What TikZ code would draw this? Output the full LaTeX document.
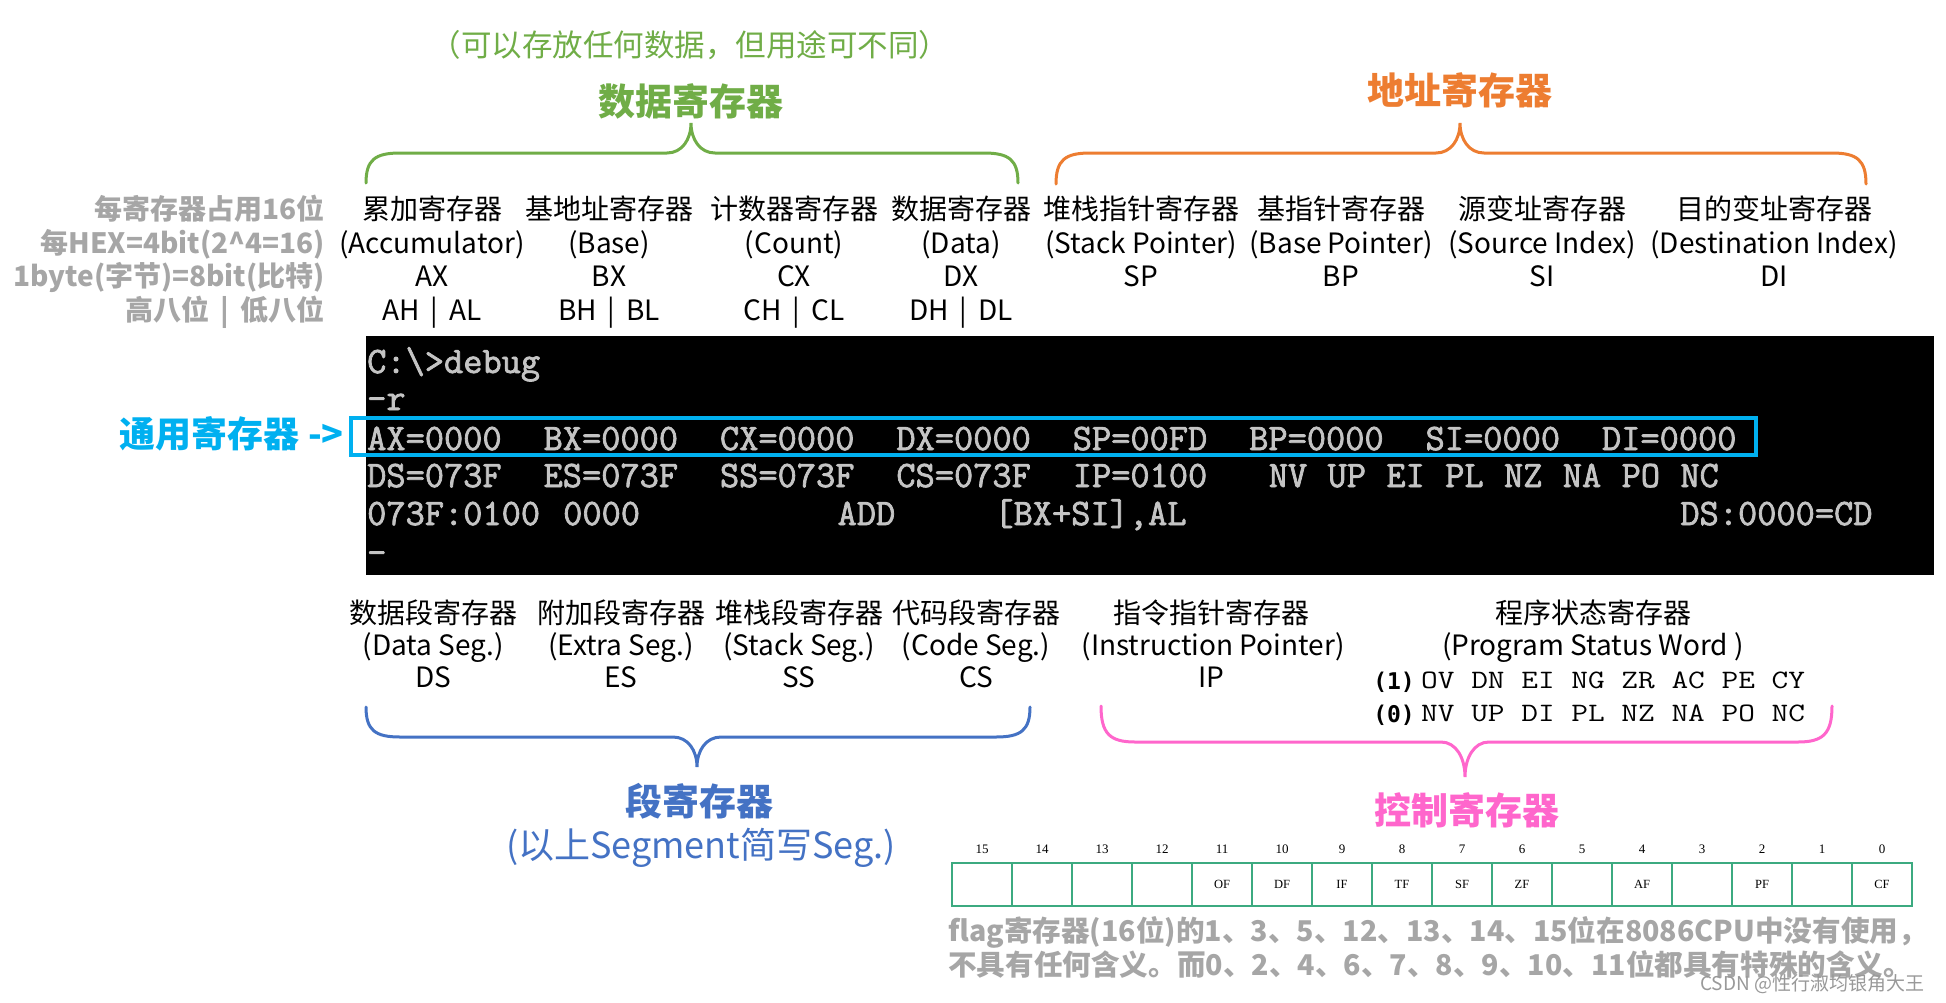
\documentclass[tikz,border=0pt]{standalone}
\usepackage{fontspec}
\usepackage{graphicx}
\setmainfont{Noto Sans CJK SC}
\newfontfamily\dvmono{DejaVu Sans Mono}
\newfontfamily\tabfont{Liberation Serif}
\newfontfamily\termfont[FakeBold=2]{Latin Modern Mono}
\definecolor{cgreen}{HTML}{70AD47}
\definecolor{corange}{HTML}{ED7D31}
\definecolor{ccyan}{HTML}{00B0F0}
\definecolor{cseg}{HTML}{4472C4}
\definecolor{cpink}{HTML}{FF66CC}
\definecolor{lgray}{HTML}{A6A6A6}
\definecolor{termgray}{HTML}{C4C4C4}
\definecolor{tabgreen}{RGB}{60,170,128}
\newcommand\myfs[1]{\fontsize{#1}{#1}\selectfont}
\newcommand\mybrace[7]{%
\draw[bracestyle,#1] (#2,#5) .. controls (#2,{#6+0.23*(#5-#6)}) and ({#2+9},#6) .. ({#2+34},#6)
 -- ({#3-24},#6) .. controls ({#3-9},#6) and (#3,{#6+0.45*(#7-#6)}) .. (#3,#7)
 .. controls (#3,{#6+0.45*(#7-#6)}) and ({#3+9},#6) .. ({#3+24},#6)
 -- ({#4-34},#6) .. controls ({#4-9},#6) and (#4,{#6+0.23*(#5-#6)}) .. (#4,#5);}
\newcommand\tline[4]{\node[term] (#1) at ({367+19.6*#2},#3) {#4};}
\begin{document}
\begin{tikzpicture}[x=1pt,y=-1pt,
  bracestyle/.style={line width=3pt,line cap=round},
  lbl/.style={font=\myfs{28},anchor=base,inner sep=0pt},
  glbl/.style={font=\myfs{28}\bfseries,text=lgray,anchor=base east,inner sep=0pt},
  head/.style={font=\myfs{37}\bfseries,anchor=base,inner sep=0pt},
  term/.style={font=\termfont\myfs{37.3},text=termgray,anchor=base west,inner sep=0pt},
  flags/.style={font=\ttfamily\myfs{32.4},anchor=base west,inner sep=0pt},
  fnum/.style={font=\dvmono\bfseries\myfs{23},anchor=base east,inner sep=0pt},
  cell/.style={draw=tabgreen,line width=1.5pt,minimum width=60pt,minimum height=43pt,inner sep=0pt,font=\tabfont\myfs{12.5}},
  bitnum/.style={font=\tabfont\myfs{13},inner sep=0pt},
  note/.style={font=\myfs{28.6}\bfseries,text=lgray,anchor=base west,inner sep=0pt}
]
\useasboundingbox (0,0) rectangle (1946,1002);
\fill[white] (0,0) rectangle (1946,1002);

% ---- top headers ----
\node[font=\myfs{30.5},text=cgreen,anchor=base,inner sep=0pt] (sub) at (690,56) {（可以存放任何数据，但用途可不同）};
\node[head,text=cgreen] (data) at (691,115) {数据寄存器};
\node[head,text=corange] (addr) at (1460,104.5) {地址寄存器};
\mybrace{cgreen}{366}{691}{1018}{183}{153}{123}
\mybrace{corange}{1056}{1460}{1866}{184}{153}{123}

% ---- left gray labels ----
\node[glbl] (g1) at (325,219) {每寄存器占用16位};
\node[glbl] (g2) at (325,253) {每HEX=4bit(2\textasciicircum 4=16)};
\node[glbl] (g3) at (325,286) {1byte(字节)=8bit(比特)};
\node[glbl] (g4) at (325,320) {高八位 \,|\, 低八位};

% ---- data / address register columns ----
\node[lbl] (a1) at (432,219) {累加寄存器};
\node[lbl] (a2) at (432,253) {(Accumulator)};
\node[lbl] (a3) at (432,286) {AX};
\node[lbl] (a4) at (432,320) {AH \,|\, AL};
\node[lbl] (b1) at (609,219) {基地址寄存器};
\node[lbl] (b2) at (609,253) {(Base)};
\node[lbl] (b3) at (609,286) {BX};
\node[lbl] (b4) at (609,320) {BH \,|\, BL};
\node[lbl] (c1) at (794,219) {计数器寄存器};
\node[lbl] (c2) at (794,253) {(Count)};
\node[lbl] (c3) at (794,286) {CX};
\node[lbl] (c4) at (794,320) {CH \,|\, CL};
\node[lbl] (e1) at (961,219) {数据寄存器};
\node[lbl] (e2) at (961,253) {(Data)};
\node[lbl] (e3) at (961,286) {DX};
\node[lbl] (e4) at (961,320) {DH \,|\, DL};
\node[lbl] (s1) at (1141,219) {堆栈指针寄存器};
\node[lbl] (s2) at (1141,253) {(Stack Pointer)};
\node[lbl] (s3) at (1141,286) {SP};
\node[lbl] (p1) at (1341,219) {基指针寄存器};
\node[lbl] (p2) at (1341,253) {(Base Pointer)};
\node[lbl] (p3) at (1341,286) {BP};
\node[lbl] (i1) at (1542,219) {源变址寄存器};
\node[lbl] (i2) at (1542,253) {(Source Index)};
\node[lbl] (i3) at (1542,286) {SI};
\node[lbl] (j1) at (1774,219) {目的变址寄存器};
\node[lbl] (j2) at (1774,253) {(Destination Index)};
\node[lbl] (j3) at (1774,286) {DI};

% ---- terminal ----
\fill[black] (366,336) rectangle (1934,575);
\tline{d1}{0}{373}{C:\textbackslash>debug}
\tline{d2}{0}{410}{-r}
\tline{rax}{0}{450}{AX=0000}
\tline{rbx}{9}{450}{BX=0000}
\tline{rcx}{18}{450}{CX=0000}
\tline{rdx}{27}{450}{DX=0000}
\tline{rsp}{36}{450}{SP=00FD}
\tline{rbp}{45}{450}{BP=0000}
\tline{rsi}{54}{450}{SI=0000}
\tline{rdi}{63}{450}{DI=0000}
\tline{rds}{0}{487}{DS=073F}
\tline{res}{9}{487}{ES=073F}
\tline{rss}{18}{487}{SS=073F}
\tline{rcs}{27}{487}{CS=073F}
\tline{rip}{36}{487}{IP=0100}
\tline{f1}{46}{487}{NV}
\tline{f2}{49}{487}{UP}
\tline{f3}{52}{487}{EI}
\tline{f4}{55}{487}{PL}
\tline{f5}{58}{487}{NZ}
\tline{f6}{61}{487}{NA}
\tline{f7}{64}{487}{PO}
\tline{f8}{67}{487}{NC}
\tline{u1}{0}{525}{073F:0100}
\tline{u2}{10}{525}{0000}
\tline{u3}{24}{525}{ADD}
\tline{u4}{32}{525}{[BX+SI],AL}
\tline{u5}{67}{525}{DS:0000=CD}
\tline{cur}{0}{564}{-}
\draw[ccyan,line width=4.5pt] (351,418) rectangle (1756,455);
\node[font=\myfs{36}\bfseries,text=ccyan,anchor=base east,inner sep=0pt] (gpr) at (344,447) {通用寄存器 ->};

% ---- segment / control columns ----
\node[lbl] (ds1) at (433,623) {数据段寄存器};
\node[lbl] (ds2) at (433,655) {(Data Seg.)};
\node[lbl] (ds3) at (433,687) {DS};
\node[lbl] (es1) at (621,623) {附加段寄存器};
\node[lbl] (es2) at (621,655) {(Extra Seg.)};
\node[lbl] (es3) at (621,687) {ES};
\node[lbl] (ss1) at (799,623) {堆栈段寄存器};
\node[lbl] (ss2) at (799,655) {(Stack Seg.)};
\node[lbl] (ss3) at (799,687) {SS};
\node[lbl] (cs1) at (976,623) {代码段寄存器};
\node[lbl] (cs2) at (976,655) {(Code Seg.)};
\node[lbl] (cs3) at (976,687) {CS};
\node[lbl] (ip1) at (1211,623) {指令指针寄存器};
\node[lbl] (ip2) at (1213,655) {(Instruction Pointer)};
\node[lbl] (ip3) at (1211,687) {IP};
\node[lbl] (ps1) at (1593,623) {程序状态寄存器};
\node[lbl] (ps2) at (1593,655) {(Program Status Word )};
\node[fnum] (one) at (1415,689) {(1)};
\node[flags] (fl1) at (1421,688) {\scalebox{1}[0.82]{OV DN EI NG ZR AC PE CY}};
\node[fnum] (zero) at (1415,722.5) {(0)};
\node[flags] (fl0) at (1421,721.5) {\scalebox{1}[0.82]{NV UP DI PL NZ NA PO NC}};

\mybrace{cseg}{366}{697}{1030}{707}{737}{767}
\mybrace{cpink}{1101}{1465}{1832}{706}{742}{777}
\node[head,text=cseg] (seg) at (699,815) {段寄存器};
\node[font=\myfs{36},text=cseg,anchor=base,inner sep=0pt] (segnote) at (701,858) {(以上Segment简写Seg.)};
\node[head,text=cpink] (ctrl) at (1467,824) {控制寄存器};

% ---- flag register table ----
\foreach \i/\lab in {0/{},1/{},2/{},3/{},4/OF,5/DF,6/IF,7/TF,8/SF,9/ZF,10/{},11/AF,12/{},13/PF,14/{},15/CF}{
  \pgfmathtruncatemacro\bit{15-\i}
  \node[cell] (cell\i) at ({982+60*\i},884.5) {\lab};
  \node[bitnum] (bit\i) at ({982+60*\i},849) {\bit};
}
\node[note] (n1) at (948,941) {flag寄存器(16位)的1、3、5、12、13、14、15位在8086CPU中没有使用，};
\node[note] (n2) at (948,975) {不具有任何含义。而0、2、4、6、7、8、9、10、11位都具有特殊的含义。};
\node[font=\myfs{19},text=black!40,anchor=base west,inner sep=0pt] (wm) at (1700,990) {CSDN @性行淑均银角大王};
\end{tikzpicture}
\end{document}
